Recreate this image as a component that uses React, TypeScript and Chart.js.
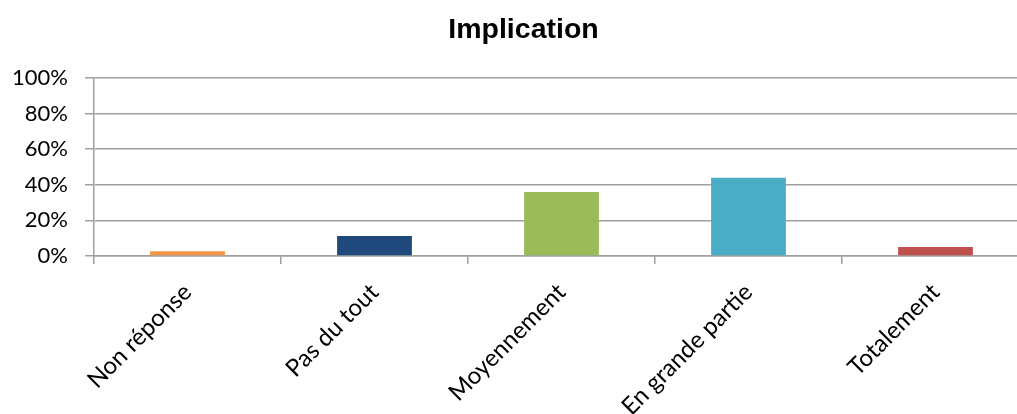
import React, { useEffect, useRef } from "react";
import { Chart, registerables } from "chart.js";

Chart.register(...registerables);

const chartTitle = "Implication";
const categories = ["Non réponse", "Pas du tout", "Moyennement", "En grande partie", "Totalement"];
const values = [2.6, 11.3, 36.0, 43.9, 5.1];
const barColors = ["#F79646", "#1F497D", "#9BBB59", "#4BACC6", "#C0504D"];
const yTicks = [0, 20, 40, 60, 80, 100];

const GRID = "#a0a0a0";
const Y_FONT = { family: "Lato, 'Noto Sans', sans-serif", size: 22 };
const X_FONT = { family: "Lato, 'Noto Sans', sans-serif", size: 24 };

const titleShift = {
  id: "titleShift",
  afterLayout(chart: any) {
    const t = chart.titleBlock;
    if (t) {
      t.left += 9;
      t.right += 9;
    }
  },
};

export default function App() {
  const ref = useRef<HTMLCanvasElement | null>(null);

  useEffect(() => {
    if (!ref.current) return;
    const chart = new Chart(ref.current, {
      type: "bar",
      data: {
        labels: categories,
        datasets: [
          {
            data: values,
            backgroundColor: barColors,
            borderWidth: 0,
            barPercentage: 0.4,
            categoryPercentage: 1,
          },
        ],
      },
      plugins: [titleShift],
      options: {
        responsive: false,
        animation: false,
        devicePixelRatio: 1,
        layout: { padding: { left: 0, right: 21, top: 0, bottom: 0 } },
        plugins: {
          legend: { display: false },
          tooltip: { enabled: false },
          title: {
            display: true,
            text: chartTitle,
            color: "#000",
            font: { family: "'Liberation Sans', Arial, sans-serif", size: 28.5, weight: "bold" },
            padding: { top: 13, bottom: 30.8 },
          },
        },
        scales: {
          x: {
            grid: {
              display: true,
              drawOnChartArea: false,
              drawTicks: true,
              tickLength: 8,
              color: GRID,
              lineWidth: 1.5,
              offset: true,
            },
            border: { display: true, color: GRID, width: 1.5 },
            ticks: {
              autoSkip: false,
              maxRotation: 45,
              minRotation: 45,
              color: "#000",
              font: X_FONT,
              padding: 14,
            },
            afterFit: (s: any) => {
              s.height = 158;
            },
          },
          y: {
            min: 0,
            max: 100,
            afterBuildTicks: (s: any) => {
              s.ticks = yTicks.map((v) => ({ value: v }));
            },
            ticks: {
              color: "#000",
              font: Y_FONT,
              padding: 17,
              callback: (v: any) => v + "%",
            },
            grid: { color: GRID, lineWidth: 1.5, tickLength: 9 },
            border: { display: true, color: GRID, width: 1.5 },
            afterFit: (s: any) => {
              s.width = 94;
            },
          },
        },
      },
    });
    return () => chart.destroy();
  }, []);

  return (
    <div
      style={{
        position: "fixed",
        left: 0,
        top: 0,
        width: 1017,
        height: 414,
        overflow: "hidden",
        background: "#fff",
      }}
    >
      <canvas ref={ref} width={1050} height={414} style={{ display: "block", width: 1050, height: 414 }} />
    </div>
  );
}
